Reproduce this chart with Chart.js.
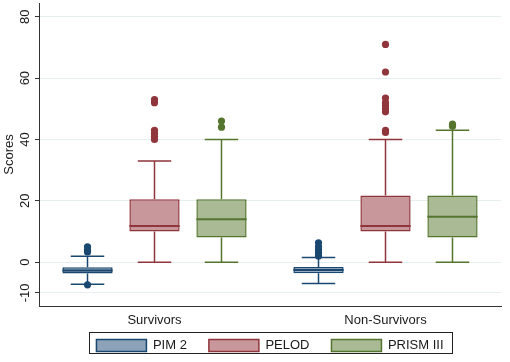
<!DOCTYPE html>
<html>
<head>
<meta charset="utf-8">
<script src="https://cdn.jsdelivr.net/npm/chart.js@4/dist/chart.umd.min.js"></script>
<style>
  html, body { margin: 0; padding: 0; background: #fff; }
  #wrap { width: 510px; height: 362px; }
</style>
</head>
<body>
<div id="wrap"><canvas id="chart" width="510" height="362"></canvas></div>
<script>
// box plot numbers, one row per series, one column per group
const categories = ['Survivors', 'Non-Survivors']
const seriesNames = ['PIM 2', 'PELOD', 'PRISM III']
const whiskerLow = [[-7.2, -7.0], [0, 0], [0, 0]]
const quart1 = [[-3.7, -3.6], [10, 10], [8, 8]]
const medians = [[-2.7, -2.6], [11.8, 11.8], [14, 14.8]]
const quart3 = [[-1.7, -1.6], [20.5, 21.7], [20.5, 21.7]]
const whiskerHigh = [[1.9, 1.5], [33, 40], [40, 43]]
const outliers = [
  [[-7.4, 3.3, 4, 5], [2, 3, 4, 5, 6.3]],
  [[40, 41, 42, 43, 52, 53], [42.3, 43, 49, 50, 51, 52, 53.5, 62, 71]],
  [[44, 46], [44.3, 45]]
]
const yTicks = [-10, 0, 20, 40, 60, 80]

const fills = ['#8ca2b8', '#c8979b', '#a9ba95']
const lines = ['#1a476f', '#90353b', '#55752f']
const textCol = '#1a1a1a'
const fontFamily = '"Liberation Sans", Arial, sans-serif'

const boxParts = {
  id: 'boxParts',
  afterDatasetsDraw (chart) {
    const ctx = chart.ctx
    const y = chart.scales.y
    chart.data.datasets.forEach((ds, d) => {
      chart.getDatasetMeta(d).data.forEach((bar, i) => {
        const x = bar.x
        const w = bar.width
        const cap = w / 3
        ctx.save()
        ctx.strokeStyle = lines[d]
        ctx.lineWidth = 1.5
        ctx.beginPath()
        // whiskers and caps
        ctx.moveTo(x, y.getPixelForValue(quart3[d][i]))
        ctx.lineTo(x, y.getPixelForValue(whiskerHigh[d][i]))
        ctx.moveTo(x - cap, y.getPixelForValue(whiskerHigh[d][i]))
        ctx.lineTo(x + cap, y.getPixelForValue(whiskerHigh[d][i]))
        ctx.moveTo(x, y.getPixelForValue(quart1[d][i]))
        ctx.lineTo(x, y.getPixelForValue(whiskerLow[d][i]))
        ctx.moveTo(x - cap, y.getPixelForValue(whiskerLow[d][i]))
        ctx.lineTo(x + cap, y.getPixelForValue(whiskerLow[d][i]))
        ctx.stroke()
        // median
        ctx.lineWidth = 2
        ctx.beginPath()
        ctx.moveTo(x - w / 2, y.getPixelForValue(medians[d][i]))
        ctx.lineTo(x + w / 2, y.getPixelForValue(medians[d][i]))
        ctx.stroke()
        // outside values
        ctx.fillStyle = lines[d]
        outliers[d][i].forEach(v => {
          ctx.beginPath()
          ctx.arc(x, y.getPixelForValue(v), 3.6, 0, Math.PI * 2)
          ctx.fill()
        })
        ctx.restore()
      })
    })
  },
  afterDraw (chart) {
    // frame round the legend, as in the original
    const boxes = chart.legend.legendHitBoxes
    if (!boxes || !boxes.length) return
    const left = Math.min(...boxes.map(b => b.left)) - 7
    const right = Math.max(...boxes.map(b => b.left + b.width)) + 9
    const top = Math.min(...boxes.map(b => b.top)) - 7
    const bottom = Math.max(...boxes.map(b => b.top + b.height)) + 1
    const ctx = chart.ctx
    ctx.save()
    ctx.strokeStyle = '#222'
    ctx.lineWidth = 1
    ctx.strokeRect(Math.round(left) + 0.5, Math.round(top) + 0.5, Math.round(right - left), Math.round(bottom - top))
    ctx.restore()
  }
}

new Chart(document.getElementById('chart').getContext('2d'), {
  type: 'bar',
  data: {
    labels: categories,
    datasets: seriesNames.map((name, d) => ({
      label: name,
      data: categories.map((c, i) => [quart1[d][i], quart3[d][i]]),
      backgroundColor: fills[d],
      borderColor: lines[d],
      borderWidth: 1.5,
      borderSkipped: false,
      categoryPercentage: 0.87,
      barPercentage: 0.75
    }))
  },
  options: {
    responsive: false,
    animation: false,
    layout: { padding: { top: 3, right: 9, bottom: 0, left: 0 } },
    plugins: {
      legend: {
        position: 'bottom',
        fullSize: false,
        labels: {
          boxWidth: 50,
          boxHeight: 12,
          padding: 22,
          color: textCol,
          font: { family: fontFamily, size: 13 }
        }
      },
      tooltip: { enabled: false },
      title: { display: false }
    },
    scales: {
      x: {
        grid: { display: false, drawTicks: false },
        border: { display: true, color: '#333', width: 1 },
        // mirrored so the labels are not clipped by the thin axis box
        ticks: { mirror: true, padding: -22.6, color: textCol, font: { family: fontFamily, size: 13 } },
        afterFit: (s) => { s.height = 11; s.paddingLeft = 0; s.paddingRight = 0 }
      },
      y: {
        min: -14.3,
        max: 84.5,
        afterBuildTicks: (s) => { s.ticks = yTicks.map(v => ({ value: v })) },
        afterFit: (s) => { s.width = 39; s.paddingTop = 0; s.paddingBottom = 0 },
        grid: { color: '#e6eef0', lineWidth: 1, tickLength: 4, tickColor: '#333' },
        border: { display: true, color: '#333', width: 1 },
        ticks: {
          minRotation: 90,
          maxRotation: 90,
          crossAlign: 'center',
          padding: 0,
          color: textCol,
          font: { family: fontFamily, size: 13 }
        },
        title: {
          display: true,
          text: 'Scores',
          color: textCol,
          padding: { top: 2, bottom: 0 },
          font: { family: fontFamily, size: 13 }
        }
      }
    }
  },
  plugins: [boxParts]
})
</script>
</body>
</html>
